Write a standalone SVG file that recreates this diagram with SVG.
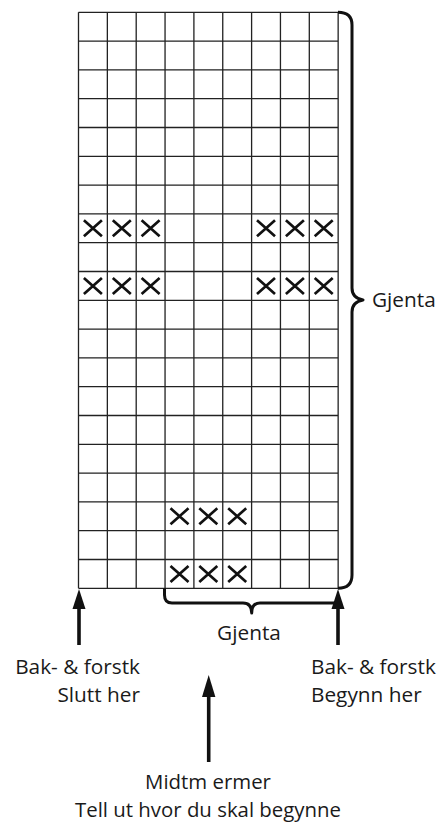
<svg xmlns="http://www.w3.org/2000/svg" xmlns:xlink="http://www.w3.org/1999/xlink" width="441" height="823" viewBox="0 0 441 823">
<style>
.grid{fill:none;stroke:#222;stroke-width:1.3}
.xm{fill:none;stroke:#111;stroke-width:2.7}
.br{fill:none;stroke:#111;stroke-width:3;stroke-linejoin:round}
.sh{stroke:#111;stroke-width:3.6}
.hd{fill:#111}
text{font-family:"Open Sans","Noto Sans",sans-serif;font-size:20.8px;fill:#1a1a1a}
text.sm{font-size:20.4px}
</style>
<defs>
<path id="x" class="xm" d="M-9,-8 L9,8 M-9,8 L9,-8"/>
</defs>
<g id="grid">
<path class="grid" d="M78.5,12.3V588.3M107.35,12.3V588.3M136.2,12.3V588.3M165.05,12.3V588.3M193.9,12.3V588.3M222.75,12.3V588.3M251.6,12.3V588.3M280.45,12.3V588.3M309.3,12.3V588.3M338.15,12.3V588.3
M78.5,12.3H338.15M78.5,41.1H338.15M78.5,69.9H338.15M78.5,98.7H338.15M78.5,127.5H338.15M78.5,156.3H338.15M78.5,185.1H338.15M78.5,213.9H338.15M78.5,242.7H338.15M78.5,271.5H338.15M78.5,300.3H338.15M78.5,329.1H338.15M78.5,357.9H338.15M78.5,386.7H338.15M78.5,415.5H338.15M78.5,444.3H338.15M78.5,473.1H338.15M78.5,501.9H338.15M78.5,530.7H338.15M78.5,559.5H338.15M78.5,588.3H338.15"/>
</g>
<g id="marks">
<use xlink:href="#x" x="92.9" y="228.3"/><use xlink:href="#x" x="121.8" y="228.3"/><use xlink:href="#x" x="150.6" y="228.3"/>
<use xlink:href="#x" x="266.0" y="228.3"/><use xlink:href="#x" x="294.9" y="228.3"/><use xlink:href="#x" x="323.7" y="228.3"/>
<use xlink:href="#x" x="92.9" y="285.9"/><use xlink:href="#x" x="121.8" y="285.9"/><use xlink:href="#x" x="150.6" y="285.9"/>
<use xlink:href="#x" x="266.0" y="285.9"/><use xlink:href="#x" x="294.9" y="285.9"/><use xlink:href="#x" x="323.7" y="285.9"/>
<use xlink:href="#x" x="179.5" y="516.3"/><use xlink:href="#x" x="208.3" y="516.3"/><use xlink:href="#x" x="237.2" y="516.3"/>
<use xlink:href="#x" x="179.5" y="573.9"/><use xlink:href="#x" x="208.3" y="573.9"/><use xlink:href="#x" x="237.2" y="573.9"/>
</g>
<g id="connectors">
<path class="br" d="M338,12.3 Q352,12.3 352,25 L352,288 Q352,298 363,300 Q352,302 352,312 L352,575 Q352,588.3 338,588.3"/>
<path class="br" d="M164.5,588.3 L164.5,595 Q164.5,603 172,603 L243,603 Q251.7,603 251.7,613 Q251.7,603 260,603 L338,603"/>
<line class="sh" x1="79" y1="605" x2="79" y2="645"/>
<polygon class="hd" points="79,589 72.5,609 85.5,609"/>
<line class="sh" x1="338" y1="605" x2="338" y2="645"/>
<polygon class="hd" points="338,589 331.5,609 344.5,609"/>
<line class="sh" x1="208.7" y1="693" x2="208.7" y2="762"/>
<polygon class="hd" points="208.7,675 202,697 215.4,697"/>
</g>
<g id="labels">
<text x="372" y="306.5">Gjenta</text>
<text x="249" y="640" text-anchor="middle">Gjenta</text>
<text x="140" y="674" text-anchor="end">Bak- &amp; forstk</text>
<text x="140" y="702" text-anchor="end">Slutt her</text>
<text x="311" y="674">Bak- &amp; forstk</text>
<text x="311" y="702">Begynn her</text>
<text class="sm" x="208" y="789" text-anchor="middle">Midtm ermer</text>
<text class="sm" x="208" y="817" text-anchor="middle">Tell ut hvor du skal begynne</text>
</g>
</svg>
